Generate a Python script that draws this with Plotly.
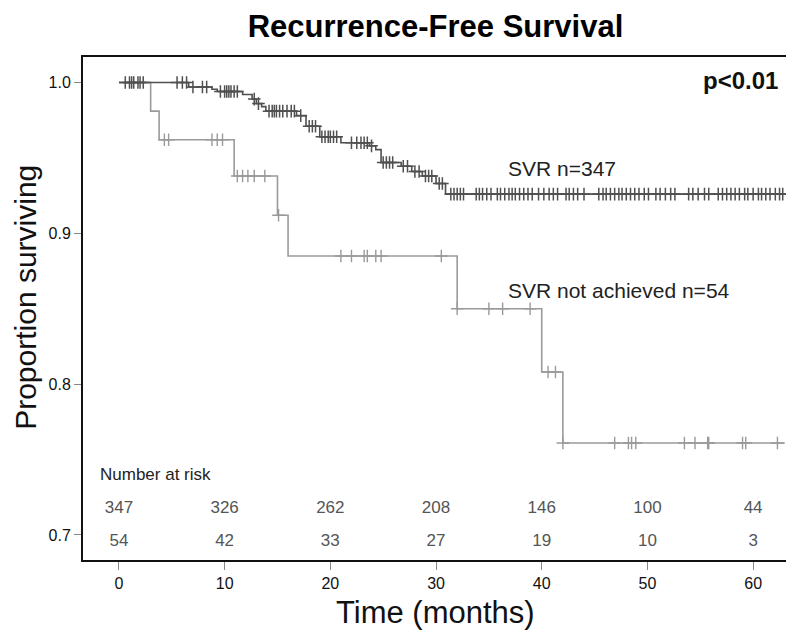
import plotly.graph_objects as go
import bisect

# ---------------- data ----------------
svr_times = [0, 6.6, 8.8, 9.3, 11.7, 12.6, 13.0, 13.5, 13.9, 16.8, 17.7, 19.0, 21.0, 23.7,
             24.3, 24.8, 26.7, 27.7, 28.7, 30.0, 30.9]
svr_surv = [1.0, 0.997, 0.9955, 0.994, 0.992, 0.989, 0.986, 0.984, 0.981, 0.978, 0.971,
            0.964, 0.960, 0.958, 0.9555, 0.947, 0.9445, 0.941, 0.938, 0.933, 0.926]
svr_end = 63.3
svr_censor = [0.6, 1.0, 1.2, 1.4, 1.8, 2.0, 2.3, 5.5, 6.0, 6.4,
              7.0, 7.9, 8.3,
              9.6, 10.0, 10.2, 10.4, 10.6, 10.9, 11.2,
              12.8, 13.2,
              14.2, 14.5, 14.7, 14.9, 15.2, 15.5, 15.9, 16.3, 16.6,
              17.2, 18.0, 18.3, 18.6,
              19.2, 19.5, 19.8, 20.0, 20.3, 20.6,
              22.0, 22.5, 22.9, 23.2, 23.5, 23.9,
              25.0, 25.3, 25.6, 25.9, 26.9, 27.3, 28.0, 28.4,
              29.0, 29.3, 29.6, 30.3, 30.6,
              31.4, 31.7, 32.0, 32.3, 32.6,
              33.8, 34.1, 34.4, 34.8, 35.2,
              35.8, 36.1, 36.5, 36.9, 37.2, 37.5, 37.9, 38.3, 38.7, 39.1,
              39.7, 40.2, 40.7, 41.1, 41.5,
              42.3, 42.6, 43.0, 43.4, 44.0,
              45.4, 45.8, 46.1, 46.5, 46.9, 47.3, 47.6, 48.0, 48.4, 48.8,
              49.2, 49.7, 50.1,
              50.8, 51.2, 51.7, 52.2, 52.6,
              53.9, 54.3, 54.8, 55.4, 55.8,
              56.7, 57.1, 57.5, 57.9, 58.3, 58.7, 59.2, 59.5, 60.0, 60.5,
              60.8, 61.2, 61.6, 62.1, 62.5, 62.8]

nsvr_times = [0, 3.0, 3.8, 10.9, 15.0, 16.0, 32.0, 40.0, 42.0]
nsvr_surv = [1.0, 0.981, 0.962, 0.938, 0.912, 0.885, 0.850, 0.808, 0.761]
nsvr_end = 63.0
nsvr_censor = [4.3, 4.7, 8.8, 9.3, 9.8,
               11.2, 11.7, 12.2, 12.8, 13.8,
               15.1,
               21.0, 22.0, 23.2, 23.5, 24.3, 24.8, 30.5,
               32.0, 35.0, 36.3, 38.9,
               40.6, 41.3,
               42.0, 46.9, 48.2, 48.5, 48.9, 53.5, 54.5, 55.7, 55.8, 59.0, 59.3, 62.3]

risk_times = [0, 10, 20, 30, 40, 50, 60]
risk_svr = [347, 326, 262, 208, 146, 100, 44]
risk_nsvr = [54, 42, 33, 27, 19, 10, 3]

x_ticks = [0, 10, 20, 30, 40, 50, 60]
y_ticks = [0.7, 0.8, 0.9, 1.0]

# ---------------- helpers ----------------
def step_xy(times, surv, end):
    return list(times) + [end], list(surv) + [surv[-1]]

def surv_at(times, surv, t):
    i = bisect.bisect_right(times, t) - 1
    return surv[max(i, 0)]

SVR_COL = "#505050"
NSVR_COL = "#9a9a9a"

fig = go.Figure()

x1, y1 = step_xy(nsvr_times, nsvr_surv, nsvr_end)
fig.add_trace(go.Scatter(x=x1, y=y1, mode="lines", line=dict(color=NSVR_COL, width=1.6, shape="hv"),
                         hoverinfo="skip", showlegend=False))
fig.add_trace(go.Scatter(x=nsvr_censor, y=[surv_at(nsvr_times, nsvr_surv, t) for t in nsvr_censor],
                         mode="markers",
                         marker=dict(symbol="cross-thin", size=9, line=dict(color=NSVR_COL, width=1.4)),
                         hoverinfo="skip", showlegend=False))

x2, y2 = step_xy(svr_times, svr_surv, svr_end)
fig.add_trace(go.Scatter(x=x2, y=y2, mode="lines", line=dict(color=SVR_COL, width=1.6, shape="hv"),
                         hoverinfo="skip", showlegend=False))
fig.add_trace(go.Scatter(x=svr_censor, y=[surv_at(svr_times, svr_surv, t) for t in svr_censor],
                         mode="markers",
                         marker=dict(symbol="cross-thin", size=9, line=dict(color=SVR_COL, width=1.5)),
                         hoverinfo="skip", showlegend=False))

NARROW = "Liberation Sans Narrow, Liberation Sans, Arial"
fig.add_trace(go.Scatter(x=risk_times, y=[0.7173] * len(risk_times), mode="text",
                         text=[str(v) for v in risk_svr],
                         textfont=dict(family=NARROW, size=17, color="#555555"),
                         hoverinfo="skip", showlegend=False))
fig.add_trace(go.Scatter(x=risk_times, y=[0.6954] * len(risk_times), mode="text",
                         text=[str(v) for v in risk_nsvr],
                         textfont=dict(family=NARROW, size=17, color="#555555"),
                         hoverinfo="skip", showlegend=False))

annos = [
    dict(x=-2.0, y=0.740, xref="x", yref="y", text="Number at risk", showarrow=False,
         xanchor="left", yanchor="middle", font=dict(family=NARROW, size=17, color="#222222")),
    dict(x=36.6, y=0.943, xref="x", yref="y", text="SVR n=347", showarrow=False,
         xanchor="left", yanchor="middle", font=dict(size=21, color="#222222")),
    dict(x=36.6, y=0.862, xref="x", yref="y", text="SVR not achieved n=54", showarrow=False,
         xanchor="left", yanchor="middle", font=dict(size=21, color="#222222")),
    dict(x=0.988, y=0.953, xref="paper", yref="paper", text="<b>p<0.01</b>", showarrow=False,
         xanchor="right", yanchor="middle", font=dict(size=24, color="#111111")),
    dict(x=-0.081, y=0.523, xref="paper", yref="paper", text="Proportion surviving", showarrow=False,
         textangle=-90, xanchor="center", yanchor="middle", font=dict(size=30, color="#111111")),
    dict(x=0.5, y=-0.105, xref="paper", yref="paper", text="Time (months)", showarrow=False,
         xanchor="center", yanchor="middle", font=dict(size=31, color="#111111")),
]

# the page body adds an 8 px offset, so the figure is 8 px smaller than the window
fig.update_layout(
    width=786, height=631,
    margin=dict(l=75, r=4, t=49, b=79),
    paper_bgcolor="white", plot_bgcolor="white",
    font=dict(family="Liberation Sans, Arial", color="#111111"),
    title=dict(text="<b>Recurrence-Free Survival</b>", x=0.5, xref="paper", xanchor="center",
               y=1 - 18 / 631, yref="container", yanchor="middle",
               font=dict(size=31, color="#000000")),
    annotations=annos,
)
fig.update_xaxes(range=[-3.4, 63.3], tickvals=x_ticks, ticks="outside", ticklen=8, tickwidth=1,
                 tickcolor="#888888", showgrid=False, zeroline=False, showline=True, mirror=True,
                 linecolor="#111111", linewidth=2, tickfont=dict(size=16, color="#111111"))
fig.update_yaxes(range=[0.6834, 1.0169], tickvals=y_ticks, tickformat=".1f", ticks="outside", ticklen=7,
                 tickwidth=1, tickcolor="#888888", showgrid=False, zeroline=False, showline=True,
                 mirror=True, linecolor="#111111", linewidth=2, tickfont=dict(size=16, color="#111111"))

fig.write_html("out.html")
